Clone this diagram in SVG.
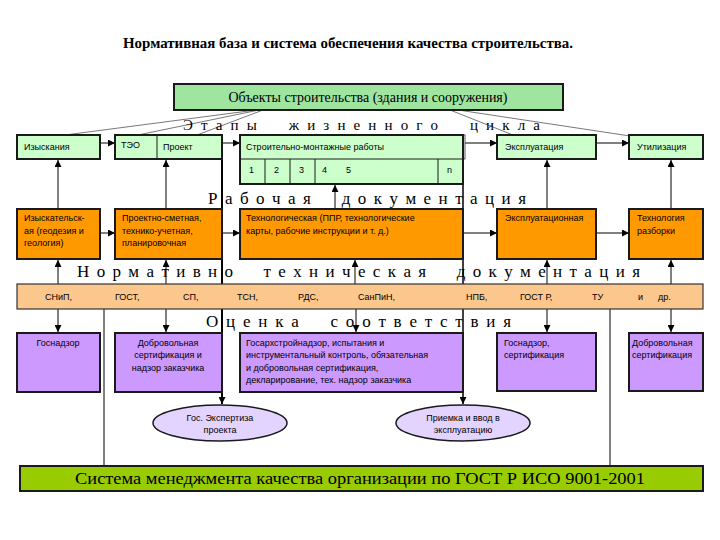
<svg xmlns="http://www.w3.org/2000/svg" width="720" height="540" viewBox="0 0 720 540">
<defs>
<marker id="ar" viewBox="0 0 10 10" refX="10" refY="5" markerWidth="7" markerHeight="7" markerUnits="userSpaceOnUse" orient="auto">
<path d="M0,0 L10,5 L0,10 z" fill="#000"/>
</marker>
<style>
.t{font-family:"Liberation Sans",Arial,sans-serif;font-size:9px;fill:#000}
.s{font-family:"Liberation Serif","Times New Roman",serif;fill:#000}
.bx{stroke:#1a1a1a;stroke-width:2}
.g{fill:#ccffcc}
.o{fill:#ff9900}
.p{fill:#cc99ff}
.e{fill:#e3d3ff;stroke:#1a1a1a;stroke-width:1.5}
.c{stroke:#000;stroke-width:1;fill:none}
.d{stroke:#555;stroke-width:0.8;fill:none}
</style>
</defs>
<rect width="720" height="540" fill="#fff"/>
<text class="s" x="348" y="48" font-size="14" font-weight="bold" text-anchor="middle" textLength="450" lengthAdjust="spacingAndGlyphs">Нормативная база и система обеспечения качества строительства.</text>

<g id="connectors">
<path class="d" d="M256,110 L65,135 M259,110 L138,135 M263,110 L197,135 M450,110 L513,135 M458,110 L630,136"/>
<line x1="222" y1="135" x2="222" y2="404" stroke="#000" stroke-width="2" marker-end="url(#ar)"/>
<line x1="463" y1="184" x2="463" y2="404" stroke="#000" stroke-width="1.5" marker-end="url(#ar)"/>
<line class="c" x1="104" y1="309" x2="104" y2="466"/>
<line class="c" x1="610" y1="309" x2="610" y2="466"/>
<path class="c" d="M100,143 L115,143" marker-end="url(#ar)"/>
<path class="c" d="M222,143 L240,143" marker-end="url(#ar)"/>
<path class="c" d="M465,143 L497,143" marker-end="url(#ar)"/>
<path class="c" d="M596,143 L629,143" marker-end="url(#ar)"/>
<path class="c" d="M100,233 L115,233" marker-end="url(#ar)"/>
<path class="c" d="M222,233 L240,233" marker-end="url(#ar)"/>
<path class="c" d="M463,233 L497,233" marker-end="url(#ar)"/>
<path class="c" d="M596,233 L629,233" marker-end="url(#ar)"/>
<path class="c" d="M58,209 L58,160" marker-end="url(#ar)"/>
<path class="c" d="M166,209 L166,160" marker-end="url(#ar)"/>
<path class="c" d="M335,209 L335,185" marker-end="url(#ar)"/>
<path class="c" d="M547,209 L547,160" marker-end="url(#ar)"/>
<path class="c" d="M671,209 L671,160" marker-end="url(#ar)"/>
<path class="c" d="M58,284 L58,260" marker-end="url(#ar)"/>
<path class="c" d="M166,284 L166,260" marker-end="url(#ar)"/>
<path class="c" d="M355,284 L355,260" marker-end="url(#ar)"/>
<path class="c" d="M547,284 L547,260" marker-end="url(#ar)"/>
<path class="c" d="M671,284 L671,260" marker-end="url(#ar)"/>
<path class="c" d="M58,309 L58,332" marker-end="url(#ar)"/>
<path class="c" d="M166,309 L166,332" marker-end="url(#ar)"/>
<path class="c" d="M356,309 L356,332" marker-end="url(#ar)"/>
<path class="c" d="M547,309 L547,332" marker-end="url(#ar)"/>
<path class="c" d="M671,309 L671,332" marker-end="url(#ar)"/>
</g>

<g id="objects">
<rect class="bx" x="174" y="84" width="389" height="26" fill="#9fe49f"/>
<text class="s" x="368" y="102" font-size="14" text-anchor="middle">Объекты строительства (здания и сооружения)</text>
</g>

<text class="s" x="183" y="130" font-size="15" textLength="357" lengthAdjust="spacing" xml:space="preserve">Э т а п ы     ж и з н е н н о г о     ц и к л а</text>

<g id="izyskaniya"><rect class="bx g" x="17" y="135" width="83" height="24"/><text class="t" x="24" y="150">Изыскания</text></g>
<g id="teo-proekt"><rect class="bx g" x="115" y="135" width="107" height="24"/><line x1="157" y1="135" x2="157" y2="159" stroke="#1a1a1a"/><text class="t" x="121" y="148">ТЭО</text><text class="t" x="163" y="150">Проект</text></g>
<g id="smr">
<rect x="240" y="135" width="225" height="24" fill="none" stroke="#333" stroke-width="0.8"/>
<rect class="bx g" x="240" y="135" width="223" height="49"/>
<line x1="240" y1="159" x2="463" y2="159" stroke="#1a1a1a"/>
<path d="M265,159V184M290,159V184M315,159V184M438,159V184" stroke="#1a1a1a" fill="none"/>
<text class="t" x="246" y="150">Строительно-монтажные работы</text>
<text class="t" x="249" y="173">1</text><text class="t" x="274" y="173">2</text><text class="t" x="299" y="173">3</text><text class="t" x="322" y="173">4</text><text class="t" x="346" y="173">5</text><text class="t" x="447" y="173">n</text>
</g>
<g id="ekspluataciya"><rect class="bx g" x="497" y="135" width="99" height="24"/><text class="t" x="505" y="150">Эксплуатация</text></g>
<g id="utilizaciya"><rect class="bx g" x="629" y="135" width="74" height="24"/><text class="t" x="637" y="150">Утилизация</text></g>

<text class="s" x="208" y="204" font-size="17" textLength="318" lengthAdjust="spacing" xml:space="preserve">Р а б о ч а я     д о к у м е н т а ц и я</text>

<g id="rd-izysk"><rect class="bx o" x="17" y="209" width="83" height="50"/><text class="t" x="24" y="221">Изыскательск-</text><text class="t" x="24" y="234">ая (геодезия и</text><text class="t" x="24" y="246">геология)</text></g>
<g id="rd-proekt"><rect class="bx o" x="115" y="209" width="107" height="50"/><text class="t" x="122" y="221">Проектно-сметная,</text><text class="t" x="122" y="234">технико-учетная,</text><text class="t" x="122" y="246">планировочная</text></g>
<g id="rd-tech"><rect class="bx o" x="240" y="209" width="223" height="50"/><text class="t" x="246" y="221">Технологическая (ППР, технологические</text><text class="t" x="246" y="234">карты, рабочие инструкции и т. д.)</text></g>
<g id="rd-ekspl"><rect class="bx o" x="497" y="209" width="99" height="50"/><text class="t" x="505" y="221">Эксплуатационная</text></g>
<g id="rd-razb"><rect class="bx o" x="629" y="209" width="74" height="50"/><text class="t" x="637" y="221">Технология</text><text class="t" x="637" y="234">разборки</text></g>

<text class="s" x="77" y="277" font-size="17" textLength="563" lengthAdjust="spacing" xml:space="preserve">Н о р м а т и в н о     т е х н и ч е с к а я     д о к у м е н т а ц и я</text>

<g id="ntd">
<rect x="17" y="284" width="686" height="25" fill="#fbc78d" stroke="#333" stroke-width="1.2"/>
<text class="t" y="300"><tspan x="45">СНиП,</tspan><tspan x="115">ГОСТ,</tspan><tspan x="183">СП,</tspan><tspan x="237">ТСН,</tspan><tspan x="298">РДС,</tspan><tspan x="358">СанПиН,</tspan><tspan x="466">НПБ,</tspan><tspan x="520">ГОСТ Р,</tspan><tspan x="592">ТУ</tspan><tspan x="638">и</tspan><tspan x="658">др.</tspan></text>
</g>

<text class="s" x="206" y="327" font-size="17" textLength="305" lengthAdjust="spacing" xml:space="preserve">О ц е н к а     с о о т в е т с т в и я</text>

<g id="oc-gosnadzor"><rect class="bx p" x="17" y="333" width="83" height="59"/><text class="t" x="58" y="346" text-anchor="middle">Госнадзор</text></g>
<g id="oc-dobrov"><rect class="bx p" x="115" y="333" width="107" height="59"/><text class="t" x="168" y="346" text-anchor="middle">Добровольная</text><text class="t" x="168" y="358" text-anchor="middle">сертификация и</text><text class="t" x="168" y="371" text-anchor="middle">надзор заказчика</text></g>
<g id="oc-gasn"><rect class="bx p" x="240" y="333" width="223" height="59"/><text class="t" x="246" y="346">Госархстройнадзор, испытания и</text><text class="t" x="246" y="358">инструментальный контроль, обязательная</text><text class="t" x="246" y="371">и добровольная сертификация,</text><text class="t" x="246" y="383">декларирование, тех. надзор заказчика</text></g>
<g id="oc-gosnadzor2"><rect class="bx p" x="497" y="333" width="99" height="58"/><text class="t" x="504" y="346">Госнадзор,</text><text class="t" x="504" y="358">сертификация</text></g>
<g id="oc-dobrov2"><rect class="bx p" x="629" y="333" width="74" height="58"/><text class="t" x="632" y="346">Добровольная</text><text class="t" x="632" y="358">сертификация</text></g>

<g id="expertiza"><ellipse class="e" cx="220" cy="423" rx="67" ry="18"/><text class="t" x="220" y="421" text-anchor="middle">Гос. Экспертиза</text><text class="t" x="220" y="433" text-anchor="middle">проекта</text></g>
<g id="priemka"><ellipse class="e" cx="463" cy="423" rx="67" ry="18"/><text class="t" x="463" y="421" text-anchor="middle">Приемка и ввод в</text><text class="t" x="463" y="433" text-anchor="middle">эксплуатацию</text></g>

<g id="smk">
<rect class="bx" x="20" y="466" width="683" height="25" fill="#99cc00"/>
<text class="s" x="360" y="484" font-size="17" text-anchor="middle" textLength="570" lengthAdjust="spacingAndGlyphs">Система менеджмента качества организации по ГОСТ Р ИСО 9001-2001</text>
</g>
</svg>
